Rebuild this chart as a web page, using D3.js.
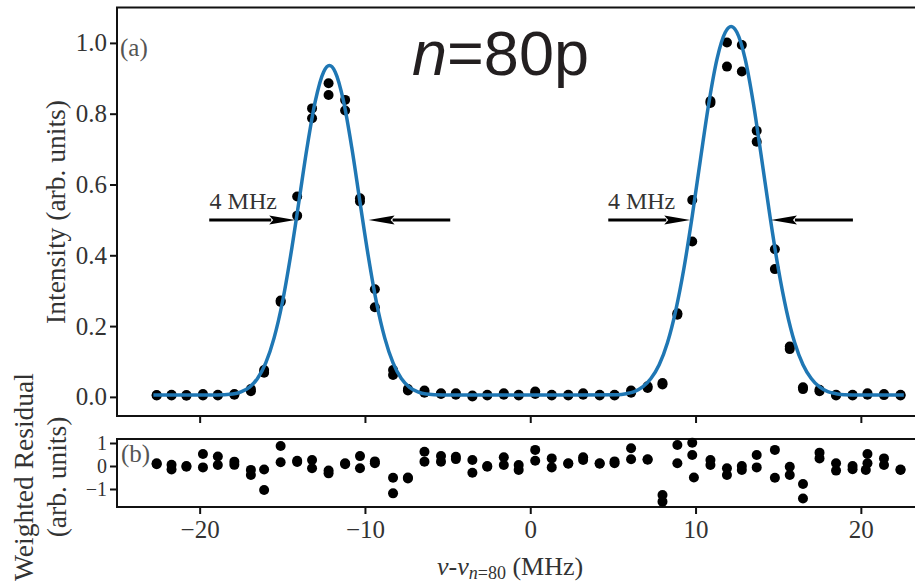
<!DOCTYPE html>
<html>
<head>
<meta charset="utf-8">
<script src="https://cdnjs.cloudflare.com/ajax/libs/d3/7.8.5/d3.min.js"></script>
<style>
  body { margin: 0; background: #fff; }
  svg { display: block; }
</style>
</head>
<body>
<div class="container"></div>
<script>
const WIDTH = 915;
const HEIGHT = 583;

// measured frequencies (MHz), two scans per point
const freq = [-22.6,-21.7,-20.8,-19.8,-18.9,-17.9,-16.9,-16.1,-15.1,-14.1,-13.2,-12.2,-11.2,-10.3,-9.4,-8.3,
  -7.4,-6.4,-5.4,-4.5,-3.5,-2.6,-1.6,-0.7,0.3,1.3,2.3,3.2,4.2,5.1,6.1,7.1,
  8.0,8.9,9.8,10.9,11.9,12.8,13.7,14.8,15.7,16.5,17.5,18.5,19.5,20.4,21.4,22.4];
const intensityA = [0.005,0.004,0.005,0.008,0.006,0.008,0.022,0.076,0.272,0.566,0.815,0.886,0.839,0.561,0.304,0.076,
  0.022,0.018,0.010,0.010,0.001,0.006,0.010,0.006,0.015,0.006,0.006,0.010,0.006,0.006,0.018,0.030,
  0.039,0.236,0.556,0.836,1.001,0.994,0.752,0.417,0.142,0.027,0.020,0.006,0.004,0.010,0.008,0.004];
const intensityB = [0.004,0.006,0.003,0.004,0.004,0.006,0.016,0.068,0.268,0.512,0.787,0.853,0.809,0.552,0.253,0.062,
  0.018,0.012,0.008,0.006,0.004,0.004,0.006,0.004,0.008,0.004,0.004,0.006,0.004,0.004,0.012,0.025,
  0.035,0.232,0.439,0.830,0.933,0.919,0.721,0.361,0.135,0.022,0.016,0.004,0.006,0.006,0.005,0.006];
const residualA = [0.12,0.05,-0.03,0.52,0.41,0.19,-0.17,-0.15,0.87,0.23,0.26,-0.20,0.12,0.43,0.20,-0.51,
  -0.54,0.62,0.43,0.40,0.26,-0.03,0.38,0.04,0.70,0.33,0.12,0.38,0.12,0.20,0.77,0.29,
  -1.26,0.91,1.01,0.26,-0.10,0.00,0.48,0.70,-0.03,-0.78,0.58,0.12,0.00,0.52,0.33,-0.17];
const residualB = [0.08,-0.15,0.00,-0.06,0.04,0.05,-0.39,-1.04,0.16,0.17,-0.10,-0.32,0.08,-0.10,0.12,-1.19,
  -0.50,0.19,0.19,0.30,-0.29,0.00,0.04,-0.17,0.23,-0.06,0.10,0.26,0.10,0.12,0.29,0.27,
  -1.55,0.12,0.48,0.04,-0.39,-0.17,-0.06,-0.51,-0.39,-1.41,0.33,-0.20,-0.14,0.12,0.04,-0.15];
const residualExtraFreq = [9.9, 20.3];
const residualExtra = [-0.50, -0.17];

// fitted curve
const fitFreq = [-22.8,-20.5,-19.0,-18.0,-17.5,-17.0,-16.5,-16.0,-15.5,-15.0,-14.5,-14.0,-13.5,-13.0,-12.5,-12.15,
  -11.8,-11.3,-10.8,-10.3,-9.8,-9.3,-8.8,-8.3,-7.8,-7.3,-6.8,-6.3,-5.3,-3.0,0.0,3.0,
  5.3,5.8,6.3,6.8,7.3,7.8,8.3,8.8,9.3,9.8,10.3,10.8,11.3,11.8,12.15,12.5,
  13.0,13.5,14.0,14.5,15.0,15.5,16.0,16.5,17.0,17.5,18.0,18.5,19.0,20.0,22.6];
const fitIntensity = [0.005,0.005,0.005,0.008,0.014,0.027,0.052,0.096,0.166,0.266,0.398,0.550,0.705,0.836,0.918,0.936,
  0.918,0.836,0.705,0.550,0.398,0.266,0.166,0.096,0.052,0.027,0.014,0.008,0.005,0.005,0.005,0.005,
  0.006,0.009,0.015,0.028,0.052,0.091,0.153,0.244,0.364,0.511,0.672,0.829,0.955,1.030,1.046,1.030,
  0.955,0.829,0.672,0.511,0.364,0.244,0.153,0.091,0.052,0.028,0.015,0.009,0.006,0.005,0.005];

const xTicks = [-20, -10, 0, 10, 20];
const yTicksTop = [0.0, 0.2, 0.4, 0.6, 0.8, 1.0];
const yTicksBottom = [-1, 0, 1];

// FWHM arrows: [start, tip] in MHz at intensity 0.5
const arrowStart = [-19.42, -4.84, 4.72, 19.52];
const arrowTip = [-14.22, -9.78, 9.68, 14.56];
const widthLabelX = [-19.4, 4.7];

const SERIF = "'Liberation Serif', 'DejaVu Serif', serif";
const INK = "#111";
const TEXT = "#333";
const BLUE = "#1f77b4";

var svg = d3.select('.container')
  .append('svg')
  .attr("width", WIDTH)
  .attr("height", HEIGHT);

var x = d3.scaleLinear().domain([-25, 25]).range([117, 943.5]);
var yTop = d3.scaleLinear().domain([-0.054, 1.1]).range([416, 7.5]);
var yBot = d3.scaleLinear().domain([-1.783, 1.174]).range([507, 439]);

function styleAxis(g, size) {
  g.select(".domain").remove();
  g.selectAll(".tick line").attr("stroke", INK).attr("stroke-width", 2);
  g.selectAll(".tick text")
    .attr("fill", TEXT)
    .style("font-family", SERIF)
    .style("font-size", size + "px");
}

// ---- panel (a)
svg.append("g")
  .attr("transform", "translate(0,416)")
  .call(d3.axisBottom(x).tickValues(xTicks).tickSize(7).tickFormat(""))
  .call(styleAxis, 25);

svg.append("g")
  .attr("transform", "translate(117,0)")
  .call(d3.axisLeft(yTop).tickValues(yTicksTop).tickSize(7).tickPadding(3).tickFormat(d3.format(".1f")))
  .call(styleAxis, 25);

svg.append("path")
  .attr("d", "M" + WIDTH + "," + yTop.range()[1] + "H117V416H" + WIDTH)
  .attr("fill", "none").attr("stroke", INK).attr("stroke-width", 2);

var dotsTop = svg.append("g");
[intensityA, intensityB].forEach(function(vals) {
  dotsTop.selectAll(null)
    .data(vals)
    .enter().append("circle")
    .attr("cx", function(d, i) { return x(freq[i]); })
    .attr("cy", function(d) { return yTop(d); })
    .attr("r", 5)
    .attr("fill", "#000");
});

var fitLine = d3.line()
  .x(function(d, i) { return x(fitFreq[i]); })
  .y(function(d) { return yTop(d); })
  .curve(d3.curveMonotoneX);

svg.append("path")
  .datum(fitIntensity)
  .attr("d", fitLine)
  .attr("fill", "none")
  .attr("stroke", BLUE)
  .attr("stroke-width", 3.5);

// arrows
arrowStart.forEach(function(s, i) {
  var x0 = x(s), x1 = x(arrowTip[i]), y0 = yTop(0.5);
  var dir = x1 > x0 ? 1 : -1;
  var base = x1 - dir * 26;
  svg.append("line")
    .attr("x1", x0).attr("x2", base + dir * 2)
    .attr("y1", y0).attr("y2", y0)
    .attr("stroke", "#000").attr("stroke-width", 3);
  svg.append("path")
    .attr("d", "M" + x1 + "," + y0 + "L" + base + "," + (y0 - 4.5) + "L" + (base + dir * 4) + "," + y0 + "L" + base + "," + (y0 + 4.5) + "Z")
    .attr("fill", "#000");
});

widthLabelX.forEach(function(v) {
  svg.append("text")
    .attr("x", x(v)).attr("y", yTop(0.53))
    .attr("fill", TEXT)
    .style("font-family", SERIF)
    .style("font-size", "24px")
    .text("4 MHz");
});

svg.append("text")
  .attr("x", 120).attr("y", 56)
  .attr("fill", "#555")
  .style("font-family", SERIF)
  .style("font-size", "25px")
  .text("(a)");

var title = svg.append("text")
  .attr("x", 412).attr("y", 75)
  .attr("fill", "#231f20")
  .style("font-family", "'Liberation Sans', Arial, sans-serif")
  .style("font-size", "63px");
title.append("tspan").style("font-style", "italic").text("n");
title.append("tspan").text("=80p");

// ---- panel (b)
svg.append("g")
  .attr("transform", "translate(0,507)")
  .call(d3.axisBottom(x).tickValues(xTicks).tickSize(7).tickPadding(6))
  .call(styleAxis, 25);

svg.append("g")
  .attr("transform", "translate(117,0)")
  .call(d3.axisLeft(yBot).tickValues(yTicksBottom).tickSize(7).tickPadding(3).tickFormat(d3.format("d")))
  .call(styleAxis, 20);

svg.append("path")
  .attr("d", "M" + WIDTH + ",439H117V507H" + WIDTH)
  .attr("fill", "none").attr("stroke", INK).attr("stroke-width", 2);

svg.append("text")
  .attr("x", 121).attr("y", 462)
  .attr("fill", "#555")
  .style("font-family", SERIF)
  .style("font-size", "25px")
  .text("(b)");

var dotsBot = svg.append("g");
[residualA, residualB].forEach(function(vals) {
  dotsBot.selectAll(null)
    .data(vals)
    .enter().append("circle")
    .attr("cx", function(d, i) { return x(freq[i]); })
    .attr("cy", function(d) { return yBot(d); })
    .attr("r", 5)
    .attr("fill", "#000");
});
dotsBot.selectAll(null)
  .data(residualExtra)
  .enter().append("circle")
  .attr("cx", function(d, i) { return x(residualExtraFreq[i]); })
  .attr("cy", function(d) { return yBot(d); })
  .attr("r", 5)
  .attr("fill", "#000");

// ---- axis titles
var xl = svg.append("text")
  .attr("x", 437).attr("y", 575)
  .attr("fill", TEXT)
  .style("font-family", SERIF)
  .style("font-size", "26px");
xl.append("tspan").style("font-style", "italic").text("ν");
xl.append("tspan").text("-");
xl.append("tspan").style("font-style", "italic").text("ν");
xl.append("tspan").attr("dy", 4).style("font-size", "18px").style("font-style", "italic").text("n");
xl.append("tspan").style("font-size", "18px").text("=80");
xl.append("tspan").attr("dy", -4).text(" (MHz)");

svg.append("text")
  .attr("transform", "translate(65,212) rotate(-90)")
  .attr("text-anchor", "middle")
  .attr("fill", TEXT)
  .style("font-family", SERIF)
  .style("font-size", "27.5px")
  .text("Intensity (arb. units)");

svg.append("text")
  .attr("transform", "translate(33,477) rotate(-90)")
  .attr("text-anchor", "middle")
  .attr("fill", TEXT)
  .style("font-family", SERIF)
  .style("font-size", "27.5px")
  .text("Weighted Residual");

svg.append("text")
  .attr("transform", "translate(66,477) rotate(-90)")
  .attr("text-anchor", "middle")
  .attr("fill", TEXT)
  .style("font-family", SERIF)
  .style("font-size", "27.5px")
  .text("(arb. units)");
</script>
</body>
</html>
